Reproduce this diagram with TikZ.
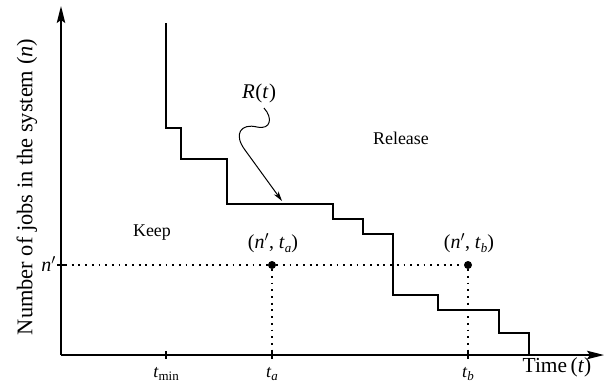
\documentclass[tikz,border=0pt]{standalone}
\usepackage{fontspec}
\setmainfont{Liberation Serif}
\usetikzlibrary{arrows.meta}
\newcommand\mi[1]{\textit{#1}}
\newcommand\sub[1]{\raisebox{-0.4ex}{\fontsize{13}{15}\selectfont #1}}
\begin{document}
\begin{tikzpicture}[x=1bp,y=-1bp,
  lbl/.style={font=\fontsize{18}{21}\selectfont, inner sep=0pt},
  axis/.style={line width=1.6bp},
  stair/.style={line width=2.9bp},
  dots/.style={line width=1.8bp, dash pattern=on 1.8bp off 4.9bp},
  pt/.style={circle, fill=black, inner sep=0pt, minimum size=8bp}]
\useasboundingbox (0,0) rectangle (605,390);
% axes
\coordinate (O) at (61,355);
\coordinate (Ytop) at (61,6);
\coordinate (Xend) at (604,355);
\draw[axis, -{Stealth[length=17bp,width=8.5bp,inset=3bp]}] (O) -- (Ytop);
\draw[axis, -{Stealth[length=17bp,width=8.5bp,inset=3bp]}] (O) -- (Xend);
% ticks
\foreach \x/\n in {166/tmin,272/ta,468/tb}{
  \coordinate (\n) at (\x,355);
  \draw[axis] (\x,351) -- (\x,359);
}
\draw[axis] (57,265) -- (65,265);
% staircase
\draw[stair] (166,23) -- (166,128) -- (181,128) -- (181,159) -- (227,159) -- (227,204)
  -- (333,204) -- (333,219) -- (363,219) -- (363,234) -- (393,234) -- (393,295)
  -- (438,295) -- (438,310) -- (499,310) -- (499,333) -- (529,333) -- (529,355);
% points
\node[pt] (pa) at (272,265) {};
\node[pt] (pb) at (468,265) {};
\coordinate (ny) at (65,265);
\draw[dots] (ny) -- (pa) -- (pb);
\draw[dots] (pa) -- (ta);
\draw[dots] (pb) -- (tb);
% labels
\node[lbl, rotate=90, font=\fontsize{22.5}{26}\selectfont] (ylab) at (27,187) {Number of jobs in the system (\mi{n})};
\node[lbl, anchor=east, font=\fontsize{20}{24}\selectfont] (nlab) at (56,264) {\mi{n}$'$};
\node[lbl] (tminl) at (166,374) {\mi{t}\sub{min}};
\node[lbl] (tal) at (272,374) {\mi{t}\sub{\mi{a}}};
\node[lbl] (tbl) at (468,374) {\mi{t}\sub{\mi{b}}};
\node[lbl, font=\fontsize{21.5}{25}\selectfont] (timel) at (557,367) {Time\,(\mi{t})};
\node[lbl] (keep) at (152,233) {Keep};
\node[lbl] (rel) at (401,138) {Release};
\node[lbl, font=\fontsize{20}{24}\selectfont] (pal) at (273,243) {(\mi{n}$'$, \mi{t}\sub{\mi{a}})};
\node[lbl, font=\fontsize{20}{24}\selectfont] (pbl) at (469,243) {(\mi{n}$'$, \mi{t}\sub{\mi{b}})};
\node[lbl, font=\fontsize{21}{25}\selectfont] (rt) at (259,93) {\mi{R}\kern0.5pt(\mi{t}\kern0.5pt)};
% wavy arrow
\coordinate (wa) at (264,108);
\coordinate (wb) at (282,201);
\draw[line width=1bp, -{Stealth[length=10bp,width=5.5bp]}] (wa) .. controls (273,118) and (271,130) .. (257,127)
  .. controls (241,123) and (233,134) .. (245,150) -- (wb);
\end{tikzpicture}
\end{document}
